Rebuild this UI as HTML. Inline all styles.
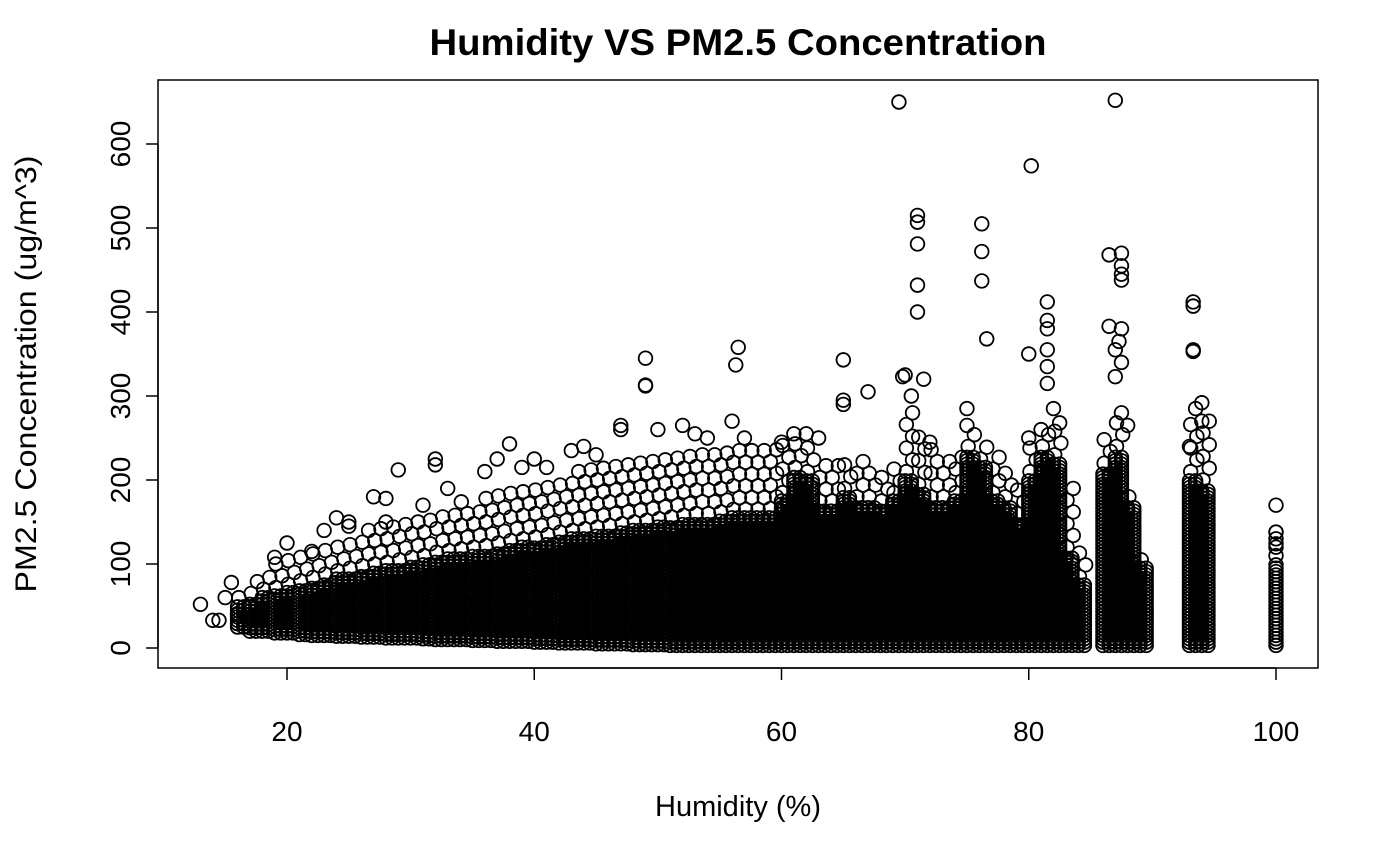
<!DOCTYPE html>
<html><head><meta charset="utf-8"><style>
body{margin:0;background:#fff}
svg{display:block;font-family:"Liberation Sans",Arial,sans-serif}
</style></head><body>
<svg id="chart" width="1400" height="865" xmlns="http://www.w3.org/2000/svg">
<text x="738" y="55" text-anchor="middle" font-size="37" font-weight="bold" textLength="617" lengthAdjust="spacingAndGlyphs">Humidity VS PM2.5 Concentration</text>
<text x="738" y="816" text-anchor="middle" font-size="29">Humidity (%)</text>
<text transform="translate(36,374) rotate(-90)" text-anchor="middle" font-size="30" textLength="437" lengthAdjust="spacingAndGlyphs">PM2.5 Concentration (ug/m^3)</text>
<g id="marks"></g>
<g id="axes"></g>
<rect x="158" y="80" width="1160" height="588" fill="none" stroke="#000" stroke-width="1.5"/>
</svg>
<script>
const xTicks=[20,40,60,80,100];
const yTicks=[0,100,200,300,400,500,600];
// dense region per humidity bin
const bandHum=[16,17,18,19,20,21,22,23,24,25,26,27,28,29,30,31,32,33,34,35,36,37,38,39,40,41,42,43,44,45,46,47,48,49,50,51,52,53,54,55,56,57,58,59,60,61,62,63,64,65,66,67,68,69,70,71,72,73,74,75,76,77,78,79,80,81,82,83,84,86,87,88,89,93,94,100];
const bandLow=[25,20,20,18,18,16,15,15,14,14,13,13,12,12,12,11,10,10,10,9,9,8,8,8,7,7,6,6,6,5,5,5,4,4,4,3,3,3,3,3,3,3,3,3,3,3,3,3,3,3,3,3,3,3,3,3,3,3,3,3,3,3,3,3,3,3,3,3,3,3,3,3,3,3,3,3];
const bandHigh=[50,55,60,62,66,70,74,78,82,85,88,90,92,95,98,100,104,106,108,110,112,115,118,120,122,125,128,130,132,134,136,138,140,142,144,146,148,150,150,152,155,155,155,156,175,205,200,165,165,180,170,170,165,175,200,185,170,170,175,230,215,175,170,150,200,230,220,110,75,210,230,170,95,200,190,100];
// sparse scatter top per bin
const sparseTop=[70,80,90,100,110,115,120,125,130,135,140,145,150,150,155,160,165,170,175,175,180,185,190,195,200,200,205,210,215,215,220,225,225,230,230,230,235,235,235,240,240,240,240,240,245,250,250,230,225,230,225,220,215,220,280,260,240,230,235,260,250,230,220,200,250,260,260,190,120,260,275,190,110,270,270,140];
// outlier points
const outHum=[13,14,14.5,15,15.5,16,19,20,22,23,24,25,25,27,28,28,29,31,32,32,33,36,37,38,39,40,41,43,44,45,47,47,49,49,49,50,52,53,54,56,56.5,56.3,57,60,61,62,63,65,65,65,67,69.5,69.8,70,70.5,71,71,71,71,71,71.5,72,75,75,76.2,76.2,76.2,76.6,80,80.2,80,81,81.5,81.5,81.5,81.5,81.5,81.5,82,82.5,86.5,86.5,87,87.5,87.5,87.5,87.5,87.5,87.3,87,87.5,87,87.5,88,93,93.3,93.3,93.3,93.3,93.5,94,94,100,100,100,100];
const outPM=[52,33,33,60,78,40,108,125,115,140,155,150,145,180,178,150,212,170,225,218,190,210,225,243,215,225,215,235,240,230,265,260,345,313,312,260,265,255,250,270,358,337,250,245,255,255,250,343,295,290,305,650,323,325,300,515,507,481,432,400,320,245,285,265,505,472,437,368,350,574,250,260,412,390,380,355,335,315,285,268,468,383,652,470,455,445,438,380,365,355,340,323,280,265,240,412,407,355,353,285,292,270,170,138,130,120];
const X=h=>287+(h-20)*12.3625;
const Y=v=>648-v*0.84;
const NS='http://www.w3.org/2000/svg';
const marks=document.getElementById('marks'), axes=document.getElementById('axes');
function circ(h,v){const c=document.createElementNS(NS,'circle');
c.setAttribute('cx',X(h));c.setAttribute('cy',Y(v));c.setAttribute('r',6.8);
c.setAttribute('fill','none');c.setAttribute('stroke','#000');c.setAttribute('stroke-width','1.8');


marks.appendChild(c);}
bandHum.forEach((h,i)=>{const offs=(h===100)?[0]:[0,0.5];
offs.forEach(o=>{for(let v=bandLow[i];v<=bandHigh[i];v+=4)circ(h+o,v);});
let k=0;
for(let v=bandHigh[i]+10;v<=sparseTop[i];v+=14){circ(h+(k%2?0.6:0.1)*(h===100?0:1),v);k++;}
});
outHum.forEach((h,i)=>circ(h,outPM[i]));
function line(x1,y1,x2,y2,name){const l=document.createElementNS(NS,'line');
l.setAttribute('x1',x1);l.setAttribute('y1',y1);l.setAttribute('x2',x2);l.setAttribute('y2',y2);
l.setAttribute('stroke','#000');l.setAttribute('stroke-width','1.5');


axes.appendChild(l);}
function txt(x,y,s,name,rot){const t=document.createElementNS(NS,'text');
t.setAttribute('x',x);t.setAttribute('y',y);t.setAttribute('text-anchor','middle');t.setAttribute('font-size','28');
if(rot)t.setAttribute('transform',`rotate(-90 ${x} ${y})`);
t.textContent=s;


axes.appendChild(t);}
line(X(20),668,X(100),668,'x-axis-line');
xTicks.forEach(t=>{line(X(t),668,X(t),680,'x-tick');txt(X(t),741,t,'x-tick-label');});
line(158,Y(0),158,Y(600),'y-axis-line');
yTicks.forEach(t=>{line(146,Y(t),158,Y(t),'y-tick');txt(130,Y(t),t,'y-tick-label',true);});
</script>
</body></html>
